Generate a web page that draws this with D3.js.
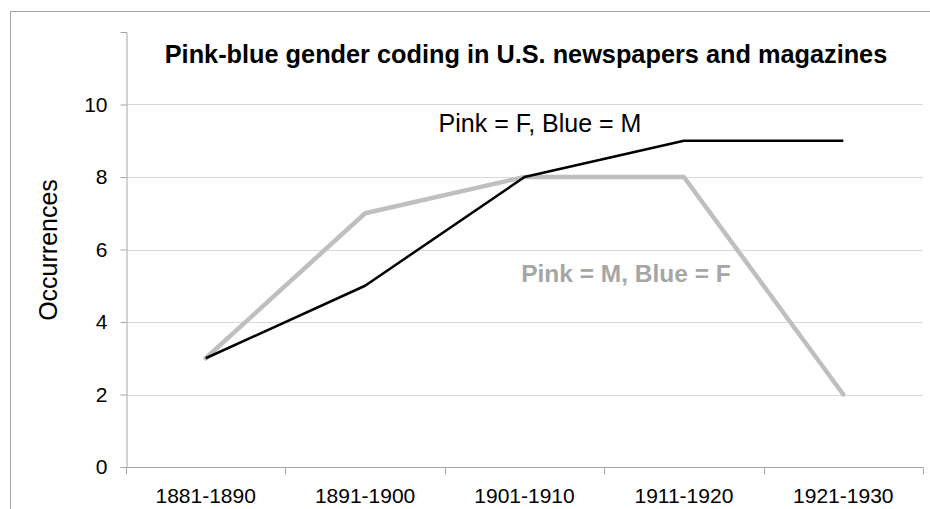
<!DOCTYPE html>
<html lang="en">
<head>
    <meta charset="UTF-8">
    <title>Pink-blue gender coding</title>
    <script src="https://d3js.org/d3.v7.min.js"></script>
    <style>
        body {
            margin: 0;
            padding: 0;
            background: #fff;
            font-family: "Liberation Sans", Arial, sans-serif;
        }
        svg {
            display: block;
        }
    </style>
</head>
<body>
    <svg id="chart" width="930" height="509"></svg>

    <script>
        const decades = ["1881-1890", "1891-1900", "1901-1910", "1911-1920", "1921-1930"];
        const pinkFemale = [3, 5, 8, 9, 9];   // Pink = F, Blue = M
        const pinkMale = [3, 7, 8, 8, 2];     // Pink = M, Blue = F
        const yTicks = [0, 2, 4, 6, 8, 10];

        const width = 930;
        const height = 509;
        const margin = { top: 32, right: 7, bottom: 42, left: 126 };

        const svg = d3.select("#chart");

        // outer frame, runs off the right and bottom edges
        svg.append("rect")
            .attr("x", 10.5)
            .attr("y", 11.5)
            .attr("width", width)
            .attr("height", height)
            .attr("fill", "none")
            .attr("stroke", "#a6a6a6")
            .attr("stroke-width", 1);

        const x = d3.scaleBand()
            .domain(decades)
            .range([margin.left, width - margin.right]);

        const y = d3.scaleLinear()
            .domain([0, 12])
            .range([height - margin.bottom, margin.top]);

        // gridlines
        svg.append("g")
            .selectAll("line")
            .data(yTicks.filter(d => d > 0))
            .join("line")
            .attr("x1", margin.left)
            .attr("x2", width - margin.right)
            .attr("y1", d => Math.round(y(d)) + 0.5)
            .attr("y2", d => Math.round(y(d)) + 0.5)
            .attr("stroke", "#d9d9d9")
            .attr("stroke-width", 1);

        // y axis
        const yAxis = svg.append("g")
            .attr("transform", `translate(${margin.left + 0.5},0)`)
            .call(d3.axisLeft(y).tickValues(yTicks).tickSize(6).tickPadding(13));
        yAxis.select(".domain").attr("stroke", "#a6a6a6");
        yAxis.selectAll(".tick line").attr("stroke", "#a6a6a6");
        yAxis.selectAll(".tick text")
            .attr("font-family", "Liberation Sans, Arial, sans-serif")
            .attr("font-size", "21px")
            .attr("fill", "#000");

        // x axis with ticks on band edges
        const xAxis = svg.append("g")
            .attr("transform", `translate(0,${Math.round(y(0)) + 0.5})`);
        xAxis.append("line")
            .attr("x1", margin.left)
            .attr("x2", width - margin.right)
            .attr("stroke", "#a6a6a6");
        const edges = decades.map(d => x(d)).concat([x(decades[decades.length - 1]) + x.bandwidth()]);
        xAxis.selectAll(".edge")
            .data(edges)
            .join("line")
            .attr("class", "edge")
            .attr("x1", d => Math.round(d) + 0.5)
            .attr("x2", d => Math.round(d) + 0.5)
            .attr("y1", 0)
            .attr("y2", 7)
            .attr("stroke", "#a6a6a6");
        xAxis.selectAll(".lbl")
            .data(decades)
            .join("text")
            .attr("class", "lbl")
            .attr("x", d => x(d) + x.bandwidth() / 2)
            .attr("y", 35)
            .attr("text-anchor", "middle")
            .attr("font-size", "21px")
            .attr("fill", "#000")
            .text(d => d);

        // y axis title
        svg.append("text")
            .attr("transform", "translate(57,250) rotate(-90)")
            .attr("text-anchor", "middle")
            .attr("font-size", "25px")
            .attr("fill", "#000")
            .text("Occurrences");

        // chart title
        svg.append("text")
            .attr("x", 526)
            .attr("y", 63)
            .attr("text-anchor", "middle")
            .attr("font-size", "25.3px")
            .attr("font-weight", "bold")
            .attr("fill", "#000")
            .text("Pink-blue gender coding in U.S. newspapers and magazines");

        const line = d3.line()
            .x((d, i) => x(decades[i]) + x.bandwidth() / 2)
            .y(d => y(d));

        svg.append("path")
            .datum(pinkMale)
            .attr("d", line)
            .attr("fill", "none")
            .attr("stroke", "#bfbfbf")
            .attr("stroke-width", 4.5)
            .attr("stroke-linejoin", "round")
            .attr("stroke-linecap", "round");

        svg.append("path")
            .datum(pinkFemale)
            .attr("d", line)
            .attr("fill", "none")
            .attr("stroke", "#000")
            .attr("stroke-width", 2.5)
            .attr("stroke-linejoin", "round");

        // series labels
        svg.append("text")
            .attr("x", 540)
            .attr("y", 132)
            .attr("text-anchor", "middle")
            .attr("font-size", "25px")
            .attr("fill", "#000")
            .text("Pink = F, Blue = M");

        svg.append("text")
            .attr("x", 626)
            .attr("y", 282)
            .attr("text-anchor", "middle")
            .attr("font-size", "24.5px")
            .attr("font-weight", "bold")
            .attr("fill", "#a6a6a6")
            .text("Pink = M, Blue = F");
    </script>
</body>
</html>
